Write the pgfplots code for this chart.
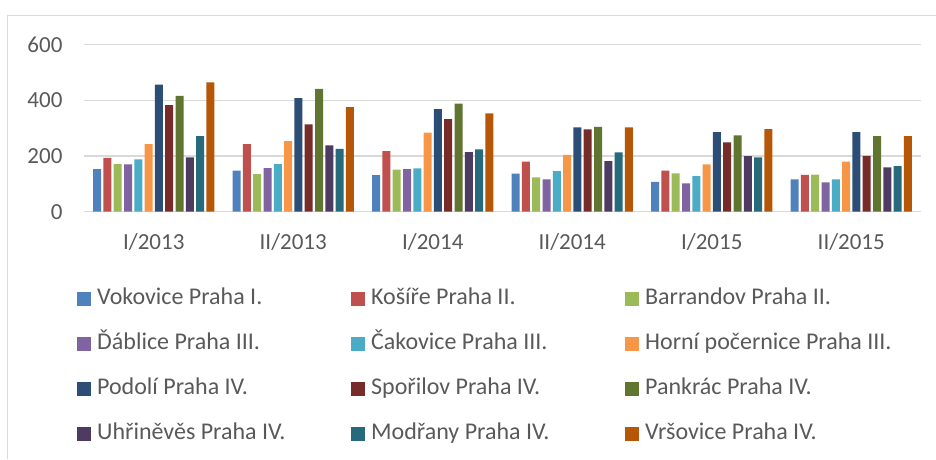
\documentclass[border=0pt]{standalone}
\usepackage{fontspec}
\setmainfont{Carlito}
\usepackage{pgfplots}
\usepackage{pgfplotstable}
\pgfplotsset{compat=1.18}

\definecolor{c1}{HTML}{4F81BD}
\definecolor{c2}{HTML}{C0504D}
\definecolor{c3}{HTML}{9BBB59}
\definecolor{c4}{HTML}{8064A2}
\definecolor{c5}{HTML}{4BACC6}
\definecolor{c6}{HTML}{F79646}
\definecolor{c7}{HTML}{2C4D75}
\definecolor{c8}{HTML}{772C2A}
\definecolor{c9}{HTML}{5F7530}
\definecolor{c10}{HTML}{4D3B62}
\definecolor{c11}{HTML}{276A7C}
\definecolor{c12}{HTML}{B65708}
\definecolor{txt}{HTML}{595959}
\definecolor{grd}{HTML}{D9D9D9}

% x: 0=I/2013 ... 5=II/2015
\pgfplotstableread{
x vok kos bar dab cak hor pod spo pan uhr mod vrs
0 153 193 171 170 188 243 457 383 416 195 272 465
1 148 243 135 157 171 254 408 314 441 238 226 376
2 131 218 151 153 156 284 369 333 388 214 224 353
3 137 180 123 116 146 204 303 296 305 182 213 303
4 107 148 138 102 128 170 286 249 274 200 195 297
5 116 132 133 105 116 180 286 201 272 159 164 272
}\data

\newcommand{\lentry}[1]{\hspace{6pt}\makebox[254pt][l]{#1}}

\begin{document}
\begin{tikzpicture}
\useasboundingbox (0pt,0pt) rectangle (936pt,459pt);
\draw[grd, line width=1.2pt] (7.5pt,0pt) -- (7.5pt,443.5pt) -- (936pt,443.5pt);
\begin{axis}[
  at={(84pt,247.3pt)}, anchor=south west,
  scale only axis, width=837pt, height=167pt,
  ybar=2.3pt, bar width=8pt,
  xmin=-0.5, xmax=5.5, ymin=0, ymax=600,
  xtick={0,...,5},
  xticklabels={I/2013,II/2013,I/2014,II/2014,I/2015,II/2015},
  ytick={0,200,400,600},
  axis line style={draw=none},
  major tick length=0pt,
  ymajorgrids, grid style={grd, line width=1.2pt},
  tick label style={font=\fontsize{23}{27}\selectfont, text=txt},
  yticklabel style={xshift=-18pt},
  xticklabel style={yshift=-18pt},
  /pgf/number format/assume math mode=true,
  legend columns=3,
  legend cell align=left,
  legend style={at={(-0.012,-0.439)}, anchor=north west, draw=none, fill=none,
    font=\fontsize{24}{28}\selectfont, text=txt,
    nodes={inner sep=0pt, text height=17pt, text depth=6pt},
    row sep=22pt, column sep=0pt},
  legend image code/.code={\fill[#1,draw=none] (0pt,-7pt) rectangle (14pt,7pt);},
]
\addplot[fill=c1, draw=none] table[x=x, y=vok] {\data};
\addlegendentry{\lentry{Vokovice Praha I.}}
\addplot[fill=c2, draw=none] table[x=x, y=kos] {\data};
\addlegendentry{\lentry{Košíře Praha II.}}
\addplot[fill=c3, draw=none] table[x=x, y=bar] {\data};
\addlegendentry{\lentry{Barrandov Praha II.}}
\addplot[fill=c4, draw=none] table[x=x, y=dab] {\data};
\addlegendentry{\lentry{Ďáblice Praha III.}}
\addplot[fill=c5, draw=none] table[x=x, y=cak] {\data};
\addlegendentry{\lentry{Čakovice Praha III.}}
\addplot[fill=c6, draw=none] table[x=x, y=hor] {\data};
\addlegendentry{\lentry{Horní počernice Praha III.}}
\addplot[fill=c7, draw=none] table[x=x, y=pod] {\data};
\addlegendentry{\lentry{Podolí Praha IV.}}
\addplot[fill=c8, draw=none] table[x=x, y=spo] {\data};
\addlegendentry{\lentry{Spořilov Praha IV.}}
\addplot[fill=c9, draw=none] table[x=x, y=pan] {\data};
\addlegendentry{\lentry{Pankrác Praha IV.}}
\addplot[fill=c10, draw=none] table[x=x, y=uhr] {\data};
\addlegendentry{\lentry{Uhřiněvěs Praha IV.}}
\addplot[fill=c11, draw=none] table[x=x, y=mod] {\data};
\addlegendentry{\lentry{Modřany Praha IV.}}
\addplot[fill=c12, draw=none] table[x=x, y=vrs] {\data};
\addlegendentry{\lentry{Vršovice Praha IV.}}
\end{axis}
\end{tikzpicture}
\end{document}
